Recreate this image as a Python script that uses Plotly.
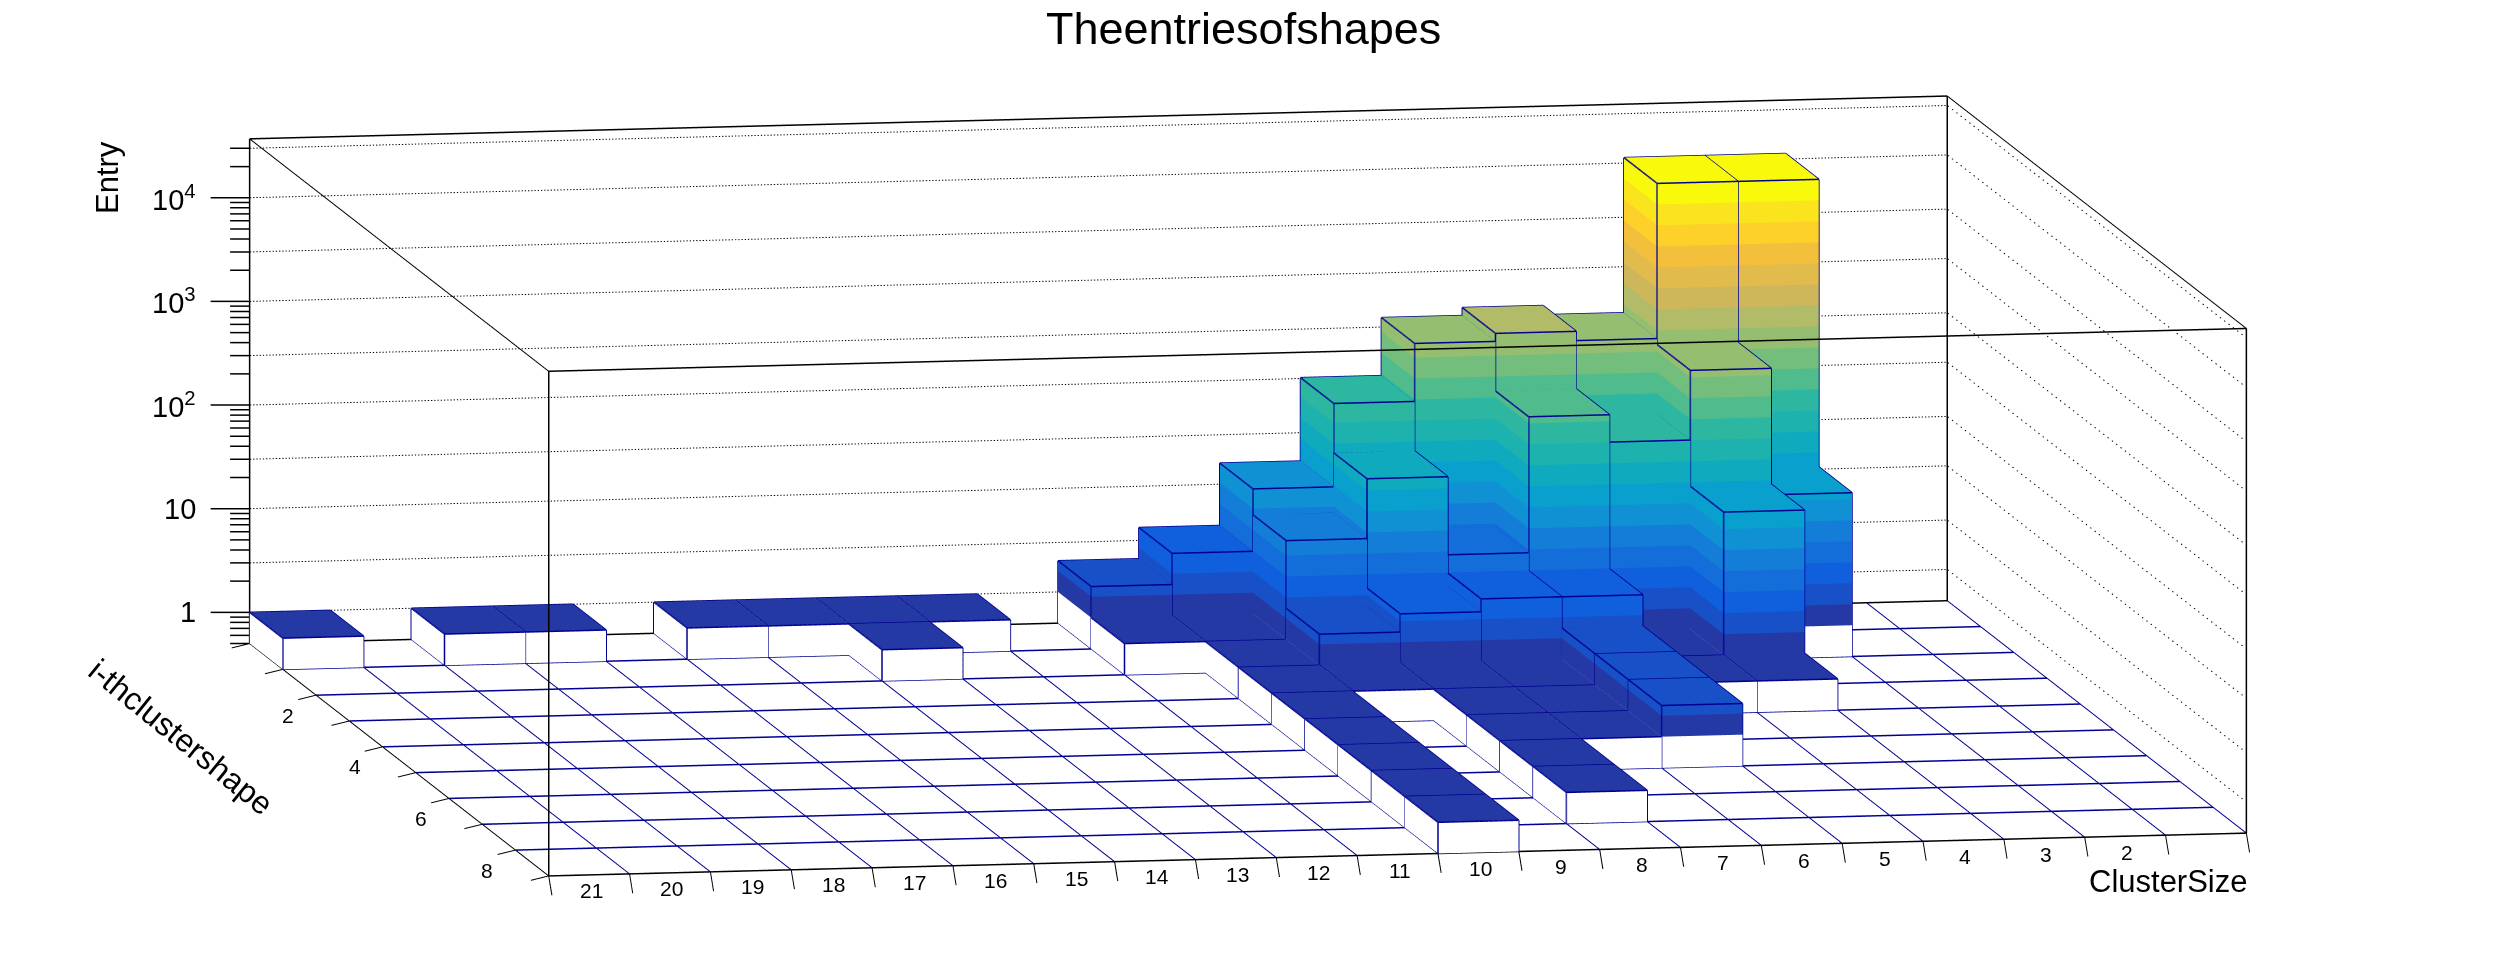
import math
import plotly.graph_objects as go

# ---------- data ----------
cluster_sizes = list(range(21, 0, -1))  # left to right on screen
shape_bins = [1, 2, 3, 4, 5, 6, 7, 8, 9]  # back to front on screen
shape_1 = [1, 0, 1, 1, 0, 1, 1, 1, 1, 0, 2, 4, 16, 102, 370, 442, 360, 11300, 11300, 0, 0]
shape_2 = [0, 0, 0, 0, 0, 0, 0, 1, 0, 0, 1, 1, 9, 34, 6, 123, 67, 315, 19, 0, 0]
shape_3 = [0, 0, 0, 0, 0, 0, 0, 0, 0, 0, 0, 1, 2, 3, 4, 4, 1, 24, 0, 0, 0]
shape_4 = [0, 0, 0, 0, 0, 0, 0, 0, 0, 0, 0, 1, 1, 1, 1, 2, 1, 1, 0, 0, 0]
shape_5 = [0, 0, 0, 0, 0, 0, 0, 0, 0, 0, 0, 1, 0, 1, 1, 2, 0, 0, 0, 0, 0]
shape_6 = [0, 0, 0, 0, 0, 0, 0, 0, 0, 0, 0, 1, 0, 1, 1, 2, 0, 0, 0, 0, 0]
shape_7 = [0, 0, 0, 0, 0, 0, 0, 0, 0, 0, 0, 1, 0, 1, 0, 0, 0, 0, 0, 0, 0]
shape_8 = [0, 0, 0, 0, 0, 0, 0, 0, 0, 0, 0, 1, 0, 1, 0, 0, 0, 0, 0, 0, 0]
shape_9 = [0, 0, 0, 0, 0, 0, 0, 0, 0, 0, 0, 1, 0, 0, 0, 0, 0, 0, 0, 0, 0]
shape_rows = [shape_1, shape_2, shape_3, shape_4, shape_5, shape_6, shape_7, shape_8, shape_9]

x_tick_labels = [str(k) for k in range(21, 1, -1)]
y_tick_labels = ["2", "4", "6", "8"]
z_major = [1, 10, 100, 1000, 10000]
z_major_labels = ["1", "10", "10<sup>2</sup>", "10<sup>3</sup>", "10<sup>4</sup>"]
z_grid = [1, 3, 10, 30, 100, 300, 1000, 3000, 10000, 30000]
band_colors = [
    "rgb(37,57,165)", "rgb(24,80,200)", "rgb(16,95,220)", "rgb(20,110,218)", "rgb(20,125,215)",
    "rgb(15,145,212)", "rgb(10,160,205)", "rgb(15,170,190)", "rgb(30,178,175)", "rgb(45,182,160)",
    "rgb(80,187,140)", "rgb(115,190,125)", "rgb(150,190,113)", "rgb(178,187,103)", "rgb(205,183,90)",
    "rgb(225,187,75)", "rgb(244,192,60)", "rgb(253,208,42)", "rgb(249,228,30)", "rgb(249,249,12)",
]

Z_FLOOR, Z_TOP = 0.5, 37000.0
X_LOW, X_HIGH = 1.0, 22.0
Y_LOW, Y_HIGH = 0.0, 9.0
PAD_X, PAD_Y, PAD_Z = 1.0, 1.0, 0.2
BLUE = "rgb(0,0,145)"
BLACK = "rgb(0,0,0)"
FONT = "Liberation Sans"

# ---------- view ----------
LX, LY, LZ = 1725.0, 1687.0, 509.7  # on-screen length of the box edges, px
VIEW = (-0.17556, -0.97455, 0.14)
PX_PER_UNIT = 486.0   # orthographic scale: half the page height per aspect unit
SHIFT = 4.0           # camera pushed towards the viewer so that nothing is behind it
log_span = math.log10(Z_TOP) - math.log10(Z_FLOOR)
aspect = dict(
    x=LX * (X_HIGH - X_LOW + 2 * PAD_X) / (X_HIGH - X_LOW) / PX_PER_UNIT,
    y=LY * (Y_HIGH - Y_LOW + 2 * PAD_Y) / (Y_HIGH - Y_LOW) / PX_PER_UNIT,
    z=LZ * (log_span + 2 * PAD_Z) / log_span / PX_PER_UNIT,
)
center = dict(x=VIEW[0] * SHIFT, y=VIEW[1] * SHIFT, z=VIEW[2] * SHIFT)
eye = dict(x=VIEW[0] * (SHIFT + 1), y=VIEW[1] * (SHIFT + 1), z=VIEW[2] * (SHIFT + 1))

# ---------- bars as banded faces ----------
vx, vy, vz, fi, fj, fk, fc = [], [], [], [], [], [], []


def quad(a, b, c, d, color):
    n = len(vx)
    for p in (a, b, c, d):
        vx.append(p[0]); vy.append(p[1]); vz.append(p[2])
    fi.extend([n, n]); fj.extend([n + 1, n + 2]); fk.extend([n + 2, n + 3]); fc.extend([color, color])


zmax = max(max(r) for r in shape_rows)
step = math.log10(zmax) / len(band_colors)


def wall(p, q, low, high, color):
    quad((p[0], p[1], low), (q[0], q[1], low), (q[0], q[1], high), (p[0], p[1], high), color)


ex, ey, ez = [], [], []


def seg(store, a, b):
    store[0].extend([a[0], b[0], None]); store[1].extend([a[1], b[1], None]); store[2].extend([a[2], b[2], None])


edges = (ex, ey, ez)
for row_index, row in enumerate(shape_rows):
    for col_index, v in enumerate(row):
        if v <= 0:
            continue
        k = cluster_sizes[col_index]
        xl, xr = k + 1.0, float(k)  # screen left / right
        yb, yf = float(row_index), float(row_index + 1)  # back / front
        faces = [((xl, yf), (xr, yf)), ((xl, yb), (xl, yf))]  # front, left
        for p, q in faces:
            wall(p, q, Z_FLOOR, 1.0, "rgb(255,255,255)")
            b = 0
            while b < len(band_colors) and 10 ** (b * step) < v:
                wall(p, q, 10 ** (b * step), min(10 ** ((b + 1) * step), v), band_colors[b])
                b += 1
        top_band = min(int(math.log10(v) / step + 1e-9), len(band_colors) - 1)
        quad((xl, yb, v), (xr, yb, v), (xr, yf, v), (xl, yf, v), band_colors[top_band])
        for a, b2 in [((xl, yb), (xr, yb)), ((xr, yb), (xr, yf)), ((xr, yf), (xl, yf)), ((xl, yf), (xl, yb))]:
            seg(edges, (a[0], a[1], v), (b2[0], b2[1], v))
        for c in [(xl, yb), (xl, yf), (xr, yf)]:
            seg(edges, (c[0], c[1], Z_FLOOR), (c[0], c[1], v))

# ---------- floor grid: lines running to the front, lines running across ----------
gx, gy, gz = [], [], []
grid = (gx, gy, gz)
for k in range(int(X_LOW), int(X_HIGH) + 1):
    seg(grid, (k, Y_LOW, Z_FLOOR), (k, Y_HIGH, Z_FLOOR))
hx, hy, hz = [], [], []
rows_grid = (hx, hy, hz)
for j in range(int(Y_LOW), int(Y_HIGH) + 1):
    seg(rows_grid, (X_LOW, j, Z_FLOOR), (X_HIGH, j, Z_FLOOR))

# ---------- box ----------
bx, by, bz = [], [], []
box = (bx, by, bz)
for a, b in [
    ((X_HIGH, Y_LOW), (X_LOW, Y_LOW)), ((X_HIGH, Y_HIGH), (X_LOW, Y_HIGH)),
]:
    seg(box, (a[0], a[1], Z_TOP), (b[0], b[1], Z_TOP))
for c in [(X_HIGH, Y_LOW), (X_HIGH, Y_HIGH), (X_LOW, Y_HIGH), (X_LOW, Y_LOW)]:
    seg(box, (c[0], c[1], Z_FLOOR), (c[0], c[1], Z_TOP))
seg(box, (X_HIGH, Y_LOW, Z_FLOOR), (X_LOW, Y_LOW, Z_FLOOR))
seg(box, (X_HIGH, Y_HIGH, Z_FLOOR), (X_LOW, Y_HIGH, Z_FLOOR))

# thin receding edges of the box
tx, ty, tz = [], [], []
thin = (tx, ty, tz)
seg(thin, (X_HIGH, Y_LOW, Z_TOP), (X_HIGH, Y_HIGH, Z_TOP))
seg(thin, (X_LOW, Y_LOW, Z_TOP), (X_LOW, Y_HIGH, Z_TOP))
seg(thin, (X_HIGH, Y_LOW, Z_FLOOR), (X_HIGH, Y_HIGH, Z_FLOOR))

# ---------- ticks ----------
for k in range(int(X_LOW), int(X_HIGH) + 1):
    seg(thin, (k, Y_HIGH, Z_FLOOR), (k, Y_HIGH + 0.096, Z_FLOOR * 10 ** (-0.163)))
for j in range(int(Y_LOW), int(Y_HIGH) + 1):
    seg(thin, (X_HIGH, j, Z_FLOOR), (X_HIGH + 0.221, j, Z_FLOOR * 10 ** (-0.038)))
for v in z_major:
    seg(box, (X_HIGH, Y_LOW, v), (X_HIGH + 0.467, Y_LOW - 0.037, v))
for d in range(-1, 5):
    for m in range(2, 10):
        v = m * 10.0 ** d
        if Z_FLOOR <= v <= Z_TOP and (d > -1 or m >= 5):
            seg(box, (X_HIGH, Y_LOW, v), (X_HIGH + 0.233, Y_LOW - 0.018, v))

# ---------- dotted wall grid, cut by hand because the dash pattern of 3D lines is far too long ----------
dx, dy, dz = [], [], []
dots = (dx, dy, dz)
BACK_PERIOD, SIDE_PERIOD = 0.04, 0.13
for v in z_grid:
    n = int((X_HIGH - X_LOW) / BACK_PERIOD)
    for i in range(n):
        x0 = X_HIGH - (i + 0.1) * BACK_PERIOD
        seg(dots, (x0, Y_LOW, v), (x0 - 0.4 * BACK_PERIOD, Y_LOW, v))
    n = int((Y_HIGH - Y_LOW) / SIDE_PERIOD)
    for i in range(n):
        y0 = Y_LOW + (i + 0.1) * SIDE_PERIOD
        seg(dots, (X_LOW, y0, v), (X_LOW, y0 + 0.25 * SIDE_PERIOD, v))

traces = [
    go.Mesh3d(x=vx, y=vy, z=vz, i=fi, j=fj, k=fk, facecolor=fc, flatshading=True, hoverinfo="skip",
              lighting=dict(ambient=1, diffuse=0, specular=0, fresnel=0, roughness=1), showscale=False),
    go.Scatter3d(x=gx, y=gy, z=gz, mode="lines", line=dict(color=BLUE, width=2), hoverinfo="skip", showlegend=False),
    go.Scatter3d(x=hx, y=hy, z=hz, mode="lines", line=dict(color=BLUE, width=3), hoverinfo="skip", showlegend=False),
    go.Scatter3d(x=ex, y=ey, z=ez, mode="lines", line=dict(color=BLUE, width=3), hoverinfo="skip", showlegend=False),
    go.Scatter3d(x=dx, y=dy, z=dz, mode="lines", line=dict(color=BLACK, width=2), hoverinfo="skip", showlegend=False),
    go.Scatter3d(x=bx, y=by, z=bz, mode="lines", line=dict(color=BLACK, width=3), hoverinfo="skip", showlegend=False),
    go.Scatter3d(x=tx, y=ty, z=tz, mode="lines", line=dict(color=BLACK, width=2), hoverinfo="skip", showlegend=False),
]

# ---------- labels ----------
scene_ann = []
lz_floor = math.log10(Z_FLOOR)
for i, lab in enumerate(x_tick_labels):
    scene_ann.append(dict(x=cluster_sizes[i] + 0.5, y=Y_HIGH, z=lz_floor, text=lab, showarrow=False,
                          xshift=2, yshift=-16, font=dict(family=FONT, size=21, color="black")))
for lab in y_tick_labels:
    scene_ann.append(dict(x=X_HIGH, y=float(lab), z=lz_floor, text=lab, showarrow=False,
                          xshift=-28, yshift=-20, font=dict(family=FONT, size=21, color="black")))
for v, lab in zip(z_major, z_major_labels):
    scene_ann.append(dict(x=X_HIGH, y=Y_LOW, z=math.log10(v), text=lab, showarrow=False, xanchor="right",
                          xshift=-52, yshift=0, font=dict(family=FONT, size=29, color="black")))

W, H = 2496, 972


def paper(text, px, py, size, angle=0):
    return dict(xref="paper", yref="paper", x=px / W, y=1 - py / H, text=text, showarrow=False, textangle=angle,
                xanchor="center", yanchor="middle", font=dict(family=FONT, size=size, color="black"))


fig = go.Figure(traces)
fig.update_layout(
    width=W, height=H, margin=dict(l=0, r=0, t=0, b=0), paper_bgcolor="white", showlegend=False,
    annotations=[
        paper("Theentriesofshapes", 1243.5, 29, 45),
        paper("Entry", 107, 178, 31, -90),
        paper("i-thclustershape", 181, 737, 32, 39),
        paper("ClusterSize", 2168, 881, 31),
    ],
    scene=dict(
        domain=dict(x=[0, 1], y=[0, 1]),
        xaxis=dict(visible=False, range=[X_HIGH + PAD_X, X_LOW - PAD_X]),
        yaxis=dict(visible=False, range=[Y_HIGH + PAD_Y, Y_LOW - PAD_Y]),
        zaxis=dict(visible=False, type="log", range=[lz_floor - PAD_Z, math.log10(Z_TOP) + PAD_Z]),
        aspectmode="manual", aspectratio=aspect,
        camera=dict(eye=eye, up=dict(x=0, y=0, z=1), center=center,
                    projection=dict(type="orthographic")),
        annotations=scene_ann,
    ),
)
fig.write_html("out.html", config=dict(displayModeBar=False),
               post_script="document.body.style.margin='0';")
